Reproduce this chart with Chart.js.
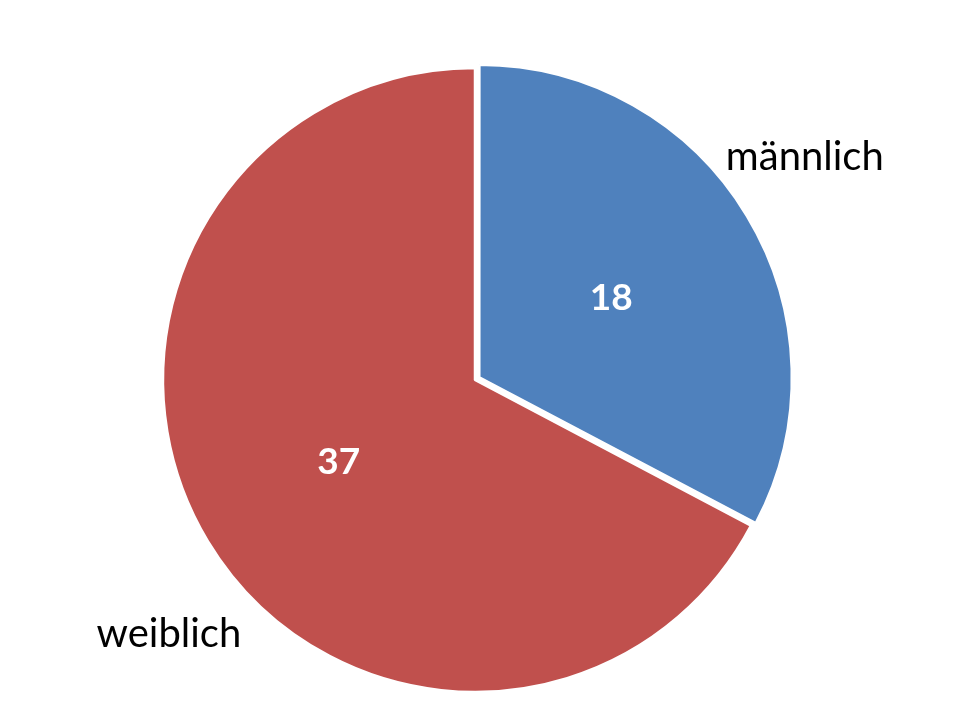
<!DOCTYPE html>
<html>
<head>
<meta charset="utf-8">
<script src="https://cdn.jsdelivr.net/npm/chart.js@4"></script>
<style>
  html, body { margin: 0; padding: 0; background: #ffffff; }
  #wrap { width: 960px; height: 720px; }
</style>
</head>
<body>
<div id="wrap"><canvas id="c" width="960" height="720"></canvas></div>
<script>
const categories = ["männlich", "weiblich"];
const values = [18, 37];
const colors = ["#4F81BD", "#C0504D"];

// label placement (style): angle from top (deg, clockwise) and radius factor for category names
const nameAngles = [56, 230.3];
const nameRadius = 1.275;
const valueRadius = 0.51;

const labelPlugin = {
  id: 'pieLabels',
  afterDatasetsDraw(chart) {
    const ctx = chart.ctx;
    const meta = chart.getDatasetMeta(0);
    ctx.save();
    meta.data.forEach((arc, i) => {
      const cx = arc.x, cy = arc.y, r = arc.outerRadius;
      const mid = (arc.startAngle + arc.endAngle) / 2;
      // value label
      ctx.fillStyle = '#ffffff';
      ctx.font = 'bold 37px Lato, "Open Sans", sans-serif';
      ctx.textAlign = 'center';
      ctx.textBaseline = 'middle';
      ctx.fillText(String(values[i]), cx + Math.cos(mid) * r * valueRadius, cy + Math.sin(mid) * r * valueRadius);
      // category label
      const a = (nameAngles[i] - 90) * Math.PI / 180;
      ctx.fillStyle = '#000000';
      ctx.font = '40px Lato, "Open Sans", sans-serif';
      ctx.fillText(categories[i], cx + Math.cos(a) * r * nameRadius, cy + Math.sin(a) * r * nameRadius);
    });
    ctx.restore();
  }
};

new Chart(document.getElementById('c'), {
  type: 'pie',
  data: {
    labels: categories,
    datasets: [{
      data: values,
      backgroundColor: colors,
      borderColor: '#ffffff',
      borderWidth: 2.5,
      offset: [20, 0],
      radius: 312
    }]
  },
  options: {
    responsive: false,
    animation: false,
    layout: { padding: { left: 0, right: 10, top: 40, bottom: 0 } },
    plugins: {
      legend: { display: false },
      tooltip: { enabled: false }
    }
  },
  plugins: [labelPlugin]
});
</script>
</body>
</html>
